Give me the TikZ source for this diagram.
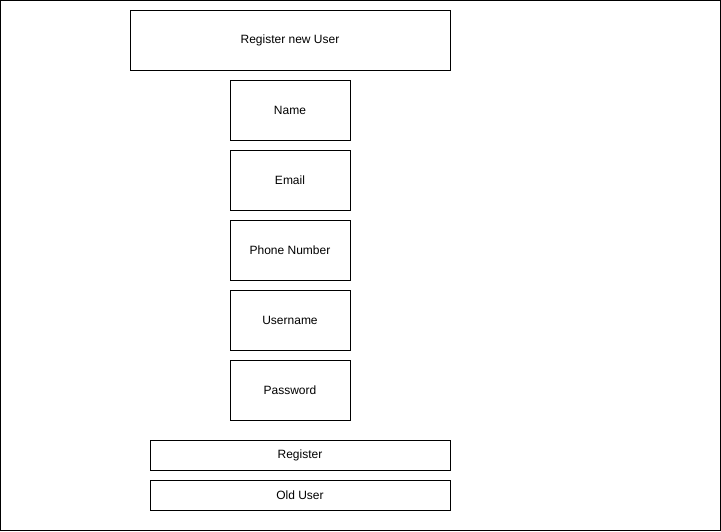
\documentclass[tikz,border=0pt]{standalone}
\usepackage{fontspec}
\setmainfont{Liberation Sans}
\tikzset{
	field/.style={draw, line width=0.8pt, minimum width=120pt, minimum height=60pt, inner sep=0pt, font=\fontsize{12}{14}\selectfont},
	button/.style={draw, line width=0.8pt, minimum width=300pt, minimum height=30pt, inner sep=0pt, font=\fontsize{12}{14}\selectfont}
}

\begin{document}
\begin{tikzpicture}[x=1pt, y=-1pt]
			%%%%% START %%%%%
			
			\useasboundingbox (0, 0) rectangle (721, 531);
			\draw[line width=0.8pt] (0.5, 0.5) rectangle (720.5, 530.5);
			
			\node[field, minimum width=320pt] (title) at (290, 40) {Register new User};
			
			\node[field] (name) at (290, 110) {Name};
			\node[field] (email) at (290, 180) {Email};
			\node[field] (phone) at (290, 250) {Phone Number};
			\node[field] (username) at (290, 320) {Username};
			\node[field] (password) at (290, 390) {Password};
			
			\node[button] (register) at (300, 455) {Register};
			\node[button] (olduser) at (300, 495) {Old User};
			
			%%%%% END %%%%%
		\end{tikzpicture}
\end{document}
